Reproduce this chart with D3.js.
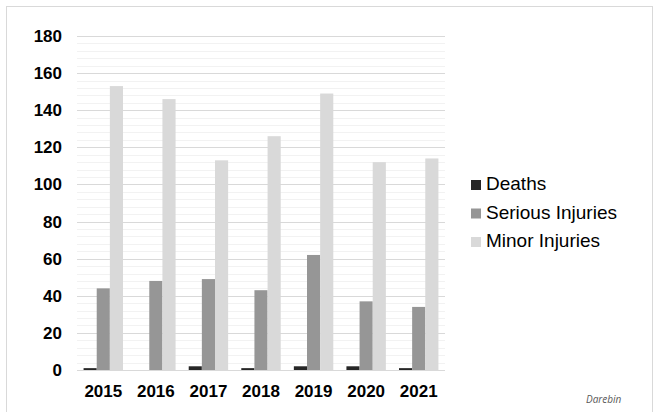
<!DOCTYPE html>
<html>
<head>
<meta charset="utf-8">
<script src="https://cdn.jsdelivr.net/npm/d3@7"></script>
<style>
  body { margin: 0; background: #fff; }
  svg { display: block; }
</style>
</head>
<body>
<script>
// Chart data
const years = ["2015", "2016", "2017", "2018", "2019", "2020", "2021"];
const deaths = [1, 0, 2, 1, 2, 2, 1];
const serious = [44, 48, 49, 43, 62, 37, 34];
const minor = [153, 146, 113, 126, 149, 112, 114];
const seriesNames = ["Deaths", "Serious Injuries", "Minor Injuries"];
const yTicks = [0, 20, 40, 60, 80, 100, 120, 140, 160, 180];

const w = 654;
const h = 412;
const colors = ["#262626", "#969696", "#d9d9d9"];

const svg = d3.select("body")
              .append("svg")
              .attr("width", w)
              .attr("height", h);

// outer frame
svg.append("rect")
   .attr("x", 6.5)
   .attr("y", 6.5)
   .attr("width", 646)
   .attr("height", 420)
   .attr("fill", "none")
   .attr("stroke", "#d9d9d9");

const xScale = d3.scaleBand()
                 .domain(years)
                 .range([77, 445])
                 .paddingInner(0.25)
                 .paddingOuter(0.125);

const xSub = d3.scaleBand()
               .domain(seriesNames)
               .range([0, xScale.bandwidth()]);

const yScale = d3.scaleLinear()
                 .domain([0, 180])
                 .range([370, 36]);

// gridlines: minor every 4, major every 20
const grid = svg.append("g");
grid.selectAll("line.minor")
    .data(d3.range(4, 181, 4).filter(v => v % 20 !== 0))
    .enter()
    .append("line")
    .attr("x1", 77)
    .attr("x2", 445)
    .attr("y1", d => Math.round(yScale(d)) + 0.5)
    .attr("y2", d => Math.round(yScale(d)) + 0.5)
    .attr("stroke", "#f2f2f2");
grid.selectAll("line.major")
    .data(yTicks)
    .enter()
    .append("line")
    .attr("x1", 77)
    .attr("x2", 445)
    .attr("y1", d => Math.round(yScale(d)) + 0.5)
    .attr("y2", d => Math.round(yScale(d)) + 0.5)
    .attr("stroke", "#d9d9d9");

// bars
const table = years.map((y, i) => ({ year: y, values: [deaths[i], serious[i], minor[i]] }));

svg.append("g")
   .selectAll("g")
   .data(table)
   .enter()
   .append("g")
   .attr("transform", d => "translate(" + xScale(d.year) + ",0)")
   .selectAll("rect")
   .data(d => d.values.map((v, k) => ({ key: seriesNames[k], value: v, k: k })))
   .enter()
   .append("rect")
   .attr("x", d => xSub(d.key))
   .attr("y", d => yScale(d.value))
   .attr("width", xSub.bandwidth())
   .attr("height", d => yScale(0) - yScale(d.value))
   .attr("fill", d => colors[d.k]);

// axes
const yAxis = d3.axisLeft(yScale)
                .tickValues(yTicks)
                .tickSize(0)
                .tickPadding(0);

svg.append("g")
   .attr("id", "y-axis")
   .attr("transform", "translate(62,0)")
   .call(yAxis)
   .call(g => g.select(".domain").remove())
   .selectAll("text")
   .attr("font-family", "Liberation Sans, Arial, sans-serif")
   .attr("font-weight", "bold")
   .attr("font-size", 17)
   .attr("fill", "#000");

const xAxis = d3.axisBottom(xScale)
                .tickSize(0)
                .tickPadding(0);

svg.append("g")
   .attr("id", "x-axis")
   .attr("transform", "translate(0,397)")
   .call(xAxis)
   .call(g => g.select(".domain").remove())
   .selectAll("text")
   .attr("dy", 0)
   .attr("font-family", "Liberation Sans, Arial, sans-serif")
   .attr("font-weight", "bold")
   .attr("font-size", 17)
   .attr("fill", "#000");

// legend
const legend = svg.append("g")
                  .attr("transform", "translate(471,190)");

const item = legend.selectAll("g")
                   .data(seriesNames)
                   .enter()
                   .append("g")
                   .attr("transform", (d, i) => "translate(0," + (i * 28.5) + ")");

item.append("rect")
    .attr("x", 0)
    .attr("y", -10)
    .attr("width", 10)
    .attr("height", 10)
    .attr("fill", (d, i) => colors[i]);

item.append("text")
    .attr("x", 15)
    .attr("y", 0)
    .attr("font-family", "Liberation Sans, Arial, sans-serif")
    .attr("font-size", 19)
    .attr("fill", "#000")
    .text(d => d);

// source note
svg.append("text")
   .attr("x", 586)
   .attr("y", 403)
   .attr("font-family", "Open Sans, sans-serif")
   .attr("font-style", "italic")
   .attr("font-size", 10)
   .attr("fill", "#595959")
   .text("Darebin");
</script>
</body>
</html>
